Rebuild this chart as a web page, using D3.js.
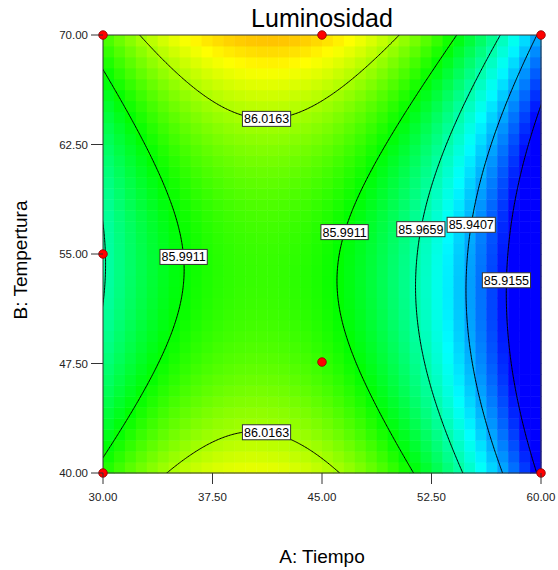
<!DOCTYPE html>
<html>
<head>
<meta charset="utf-8">
<script src="https://cdn.jsdelivr.net/npm/d3@7"></script>
<style>
	body { margin: 0; background: #fff; }
	svg { display: block; font-family: Arial, "Liberation Sans", sans-serif; }
</style>
</head>
<body>
<div id="chart"></div>
<script>
// fitted quadratic model in coded units (a = (A-45)/15, b = (B-55)/15)
var terms = ['Intercept', 'A', 'B', 'AB', 'A^2', 'B^2'];
var coefs = [85.99442, -0.03673, 0.007844, 0.004906, -0.0663, 0.03351];

// contour levels drawn on the plot
var levels = [85.9155, 85.9407, 85.9659, 85.9911, 86.0163];

// where each contour label sits (approx, in factor units)
var labelLevel = [86.0163, 86.0163, 85.9911, 85.9911, 85.9659, 85.9407, 85.9155];
var labelA = [41.23, 41.23, 35.6, 46.46, 51.73, 55.16, 57.59];
var labelB = [64.5, 43.16, 54.81, 56.5, 56.7, 56.99, 53.25];

// design runs
var runA = [30, 45, 60, 30, 45, 30, 60];
var runB = [70, 70, 70, 55, 47.6, 40, 40];

var xTicks = [30, 37.5, 45, 52.5, 60];
var yTicks = [40, 47.5, 55, 62.5, 70];

// colour ramp range (blue .. red)
var colorLo = 85.915, colorHi = 86.067;

(function() {
	var width = 558, height = 570,
		left = 103, top = 35, size = 438,
		cells = 40;

	var x = d3.scaleLinear().domain([30, 60]).range([left, left + size]);
	var y = d3.scaleLinear().domain([40, 70]).range([top + size, top]);

	var predict = function(A, B) {
		var a = (A - 45) / 15, b = (B - 55) / 15;
		return coefs[0] + coefs[1] * a + coefs[2] * b + coefs[3] * a * b + coefs[4] * a * a + coefs[5] * b * b;
	};

	var step = (colorHi - colorLo) / 4;
	var color = d3.scaleLinear()
		.domain([colorLo, colorLo + step, colorLo + 2 * step, colorLo + 3 * step, colorHi])
		.range(['#0000ff', '#00ffff', '#00ff00', '#ffff00', '#ff0000'])
		.clamp(true);

	var svg = d3.select('#chart').append('svg').attr('width', width).attr('height', height);

	svg.append('clipPath').attr('id', 'plotClip')
		.append('rect').attr('x', left).attr('y', top).attr('width', size).attr('height', size);

	// colour cells
	var cellData = [];
	var dA = 30 / cells, dB = 30 / cells;
	for(var i = 0; i < cells; i++) {
		for(var j = 0; j < cells; j++) {
			cellData.push({ A: 30 + i * dA, B: 40 + j * dB });
		}
	}
	svg.append('g').selectAll('rect')
		.data(cellData)
		.enter()
		.append('rect')
		.attr('x', function(d) { return x(d.A); })
		.attr('y', function(d) { return y(d.B + dB); })
		.attr('width', x(dA) - x(0) + 0.5)
		.attr('height', y(0) - y(dB) + 0.5)
		.attr('fill', function(d) { return color(predict(d.A + dA / 2, d.B + dB / 2)); });

	// contour lines, computed on a grid a bit larger than the plot and clipped
	var g0A = 28, g0B = 38, gs = 0.1, nx = 341, ny = 341;
	var values = new Array(nx * ny);
	for(var r = 0; r < ny; r++) {
		for(var c = 0; c < nx; c++) {
			values[r * nx + c] = predict(g0A + c * gs, g0B + r * gs);
		}
	}
	var contours = d3.contours().size([nx, ny]).thresholds(levels)(values);
	var toPx = function(p) {
		return [x(g0A + (p[0] - 0.5) * gs), y(g0B + (p[1] - 0.5) * gs)];
	};
	var proj = d3.geoTransform({
		point: function(px, py) {
			var q = toPx([px, py]);
			this.stream.point(q[0], q[1]);
		}
	});
	var path = d3.geoPath(proj);
	svg.append('g').attr('clip-path', 'url(#plotClip)')
		.selectAll('path')
		.data(contours)
		.enter()
		.append('path')
		.attr('d', path)
		.attr('fill', 'none')
		.attr('stroke', '#000')
		.attr('stroke-width', 1);

	// plot frame
	svg.append('rect')
		.attr('x', left).attr('y', top).attr('width', size).attr('height', size)
		.attr('fill', 'none').attr('stroke', '#333').attr('stroke-width', 1);

	// contour labels, snapped to the nearest point of their contour
	var labels = svg.append('g');
	labelLevel.forEach(function(lv, k) {
		var cont = contours.filter(function(c) { return Math.abs(c.value - lv) < 1e-6; })[0];
		var tx = x(labelA[k]), ty = y(labelB[k]);
		var best = [tx, ty], bestD = Infinity;
		cont.coordinates.forEach(function(poly) {
			poly.forEach(function(ring) {
				ring.forEach(function(p) {
					var q = toPx(p);
					if(q[0] < left || q[0] > left + size || q[1] < top || q[1] > top + size) return;
					var dd = (q[0] - tx) * (q[0] - tx) + (q[1] - ty) * (q[1] - ty);
					if(dd < bestD) { bestD = dd; best = q; }
				});
			});
		});
		var lab = labels.append('g').attr('transform', 'translate(' + best[0] + ',' + best[1] + ')');
		var txt = lab.append('text')
			.attr('text-anchor', 'middle')
			.attr('dy', '0.36em')
			.attr('font-size', 12.5)
			.attr('fill', '#000')
			.text(d3.format('.4f')(lv));
		var w = txt.node().getComputedTextLength() + 3;
		lab.insert('rect', 'text')
			.attr('x', -w / 2).attr('y', -7.5)
			.attr('width', w).attr('height', 15)
			.attr('fill', '#fff').attr('stroke', '#333').attr('stroke-width', 1);
	});

	// design points
	svg.append('g').selectAll('circle')
		.data(runA)
		.enter()
		.append('circle')
		.attr('cx', function(d) { return x(d); })
		.attr('cy', function(d, i) { return y(runB[i]); })
		.attr('r', 4.3)
		.attr('fill', '#ff0000')
		.attr('stroke', '#8b0000')
		.attr('stroke-width', 0.8);

	// axes
	var fmt = d3.format('.2f');
	var xAxis = svg.append('g').attr('transform', 'translate(0,' + (top + size) + ')');
	xAxis.selectAll('line').data(xTicks).enter().append('line')
		.attr('x1', function(d) { return x(d); }).attr('x2', function(d) { return x(d); })
		.attr('y1', 0).attr('y2', 11)
		.attr('stroke', '#333');
	xAxis.selectAll('text').data(xTicks).enter().append('text')
		.attr('x', function(d) { return x(d); })
		.attr('y', 27.5)
		.attr('text-anchor', 'middle')
		.attr('font-size', 11.5)
		.attr('fill', '#222')
		.text(fmt);

	var yAxis = svg.append('g').attr('transform', 'translate(' + left + ',0)');
	yAxis.selectAll('line').data(yTicks).enter().append('line')
		.attr('y1', function(d) { return y(d); }).attr('y2', function(d) { return y(d); })
		.attr('x1', -12).attr('x2', 0)
		.attr('stroke', '#333');
	yAxis.selectAll('text').data(yTicks).enter().append('text')
		.attr('x', -15)
		.attr('y', function(d) { return y(d); })
		.attr('dy', '0.35em')
		.attr('text-anchor', 'end')
		.attr('font-size', 11.5)
		.attr('fill', '#222')
		.text(fmt);

	// titles
	svg.append('text')
		.attr('x', left + size / 2).attr('y', 27)
		.attr('text-anchor', 'middle')
		.attr('font-size', 25)
		.attr('fill', '#000')
		.text('Luminosidad');
	svg.append('text')
		.attr('x', left + size / 2).attr('y', 563)
		.attr('text-anchor', 'middle')
		.attr('font-size', 19)
		.attr('fill', '#000')
		.text('A: Tiempo');
	svg.append('text')
		.attr('transform', 'translate(27,260) rotate(-90)')
		.attr('text-anchor', 'middle')
		.attr('font-size', 19)
		.attr('fill', '#000')
		.text('B: Tempertura');
})();
</script>
</body>
</html>
